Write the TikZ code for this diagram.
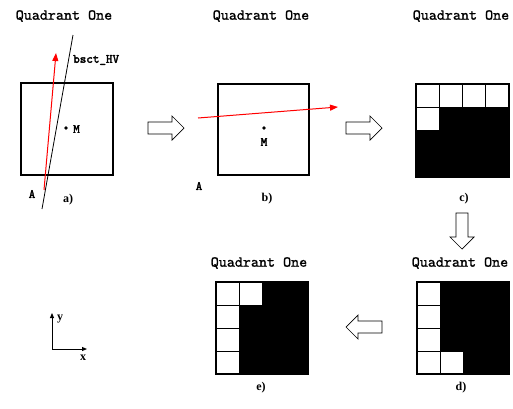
\documentclass[tikz,border=0pt]{standalone}
\usepackage{fontspec}
\setmainfont{Liberation Serif}
\newfontfamily\qfont[FakeBold=1.2]{lmmono10-regular.otf}
\newfontfamily\qbfont[FakeBold=2.5]{lmmono10-regular.otf}
\usetikzlibrary{arrows.meta}
\begin{document}
\begin{tikzpicture}[x=1pt,y=-1pt,
  ttl/.style={font=\qfont\fontsize{15.3}{16}\selectfont, inner sep=0},
  lbl/.style={font=\qbfont\fontsize{12.5}{13}\selectfont, inner sep=0},
  captxt/.style={font=\bfseries\fontsize{12}{13}\selectfont, inner sep=0},
  sq/.style={draw, line width=1.3pt},
  cell/.style={draw, fill=white, line width=0.9pt},
  redarr/.style={red, line width=1pt, -{Triangle[length=8pt,width=6pt]}},
  axis/.style={line width=0.9pt, -{Triangle[length=5pt,width=4pt]}},
  hollowarr/.pic={\draw[line width=0.7pt, fill=white] (0,-6) -- (24,-6) -- (24,-12) -- (36,0) -- (24,12) -- (24,6) -- (0,6) -- cycle;}]
\useasboundingbox (0,0) rectangle (513,408);
% panel a
\node[ttl] (ta) at (64,16) {Quadrant One};
\node[sq, minimum width=92pt, minimum height=92pt, inner sep=0] (sa) at (67,129) {};
\fill (66,128) circle (1.8pt) coordinate (ma);
\node[lbl, anchor=west] (lma) at (73,129) {M};
\node[lbl] (la) at (32,194) {A};
\node[captxt] (ca) at (68,200) {a)};
\coordinate (bs1) at (42,209);
\coordinate (bs2) at (73,35);
\draw[line width=0.8pt] (bs1) -- (bs2);
\node[lbl, anchor=west, font=\qbfont\fontsize{12.5}{13}\selectfont] (lbs) at (73,60) {bsct\_HV};
\coordinate (ra1) at (44,190);
\coordinate (ra2) at (56,53);
\draw[redarr] (ra1) -- (ra2);
% arrow a->b
\pic (h1) at (148,128) {hollowarr};
% panel b
\node[ttl] (tb) at (261,16) {Quadrant One};
\node[sq, minimum width=91pt, minimum height=91pt, inner sep=0] (sb) at (263.5,129.5) {};
\fill (264,128) circle (1.8pt) coordinate (mb);
\node[lbl] (lmb) at (264,142) {M};
\node[lbl] (lb) at (199,186) {A};
\node[captxt] (cb) at (267,199) {b)};
\coordinate (rb1) at (198,118);
\coordinate (rb2) at (338,107);
\draw[redarr] (rb1) -- (rb2);
% arrow b->c
\pic (h2) at (346,128) {hollowarr};
% panel c
\node[ttl] (tc) at (461,16) {Quadrant One};
\fill (416,84) rectangle (509,177);
\foreach \i in {0,1,2,3} {\draw[cell] (416+23.25*\i,84) rectangle ++(23.25,23);}
\draw[cell] (416,107) rectangle ++(23.25,23);
\node[sq, minimum width=93pt, minimum height=93pt, inner sep=0] (sc) at (462.5,130.5) {};
\node[captxt] (cc) at (464,199) {c)};
% down arrow
\pic[rotate=-90] (h3) at (462,213) {hollowarr};
% panel d
\node[ttl] (td) at (460,263) {Quadrant One};
\fill (417,282) rectangle (509,374);
\foreach \j in {0,1,2,3} {\draw[cell] (417,282+23*\j) rectangle ++(23,23);}
\draw[cell] (440,351) rectangle ++(23,23);
\node[sq, minimum width=92pt, minimum height=92pt, inner sep=0] (sd) at (463,328) {};
\node[captxt] (cd) at (461,388) {d)};
% arrow d->e
\pic[rotate=180] (h4) at (382,327) {hollowarr};
% panel e
\node[ttl] (te) at (259,263) {Quadrant One};
\fill (216,282) rectangle (308,374);
\foreach \j in {0,1,2,3} {\draw[cell] (216,282+23*\j) rectangle ++(23,23);}
\draw[cell] (239,282) rectangle ++(23,23);
\node[sq, minimum width=92pt, minimum height=92pt, inner sep=0] (se) at (262,328) {};
\node[captxt] (ce) at (261,388) {e)};
% axes
\coordinate (o) at (52,349);
\coordinate (ya) at (52,313);
\coordinate (xa) at (87,349);
\draw[axis] (o) -- (ya);
\draw[axis] (o) -- (xa);
\node[captxt] (ly) at (60,319) {y};
\node[captxt] (lx) at (83,358) {x};
\end{tikzpicture}
\end{document}
